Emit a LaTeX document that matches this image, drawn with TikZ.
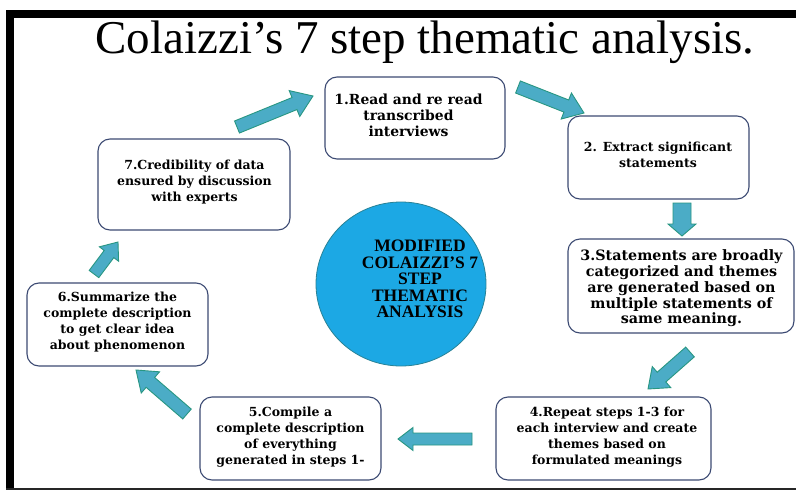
\documentclass[tikz,border=0pt]{standalone}
\usepackage{fontspec}
\setmainfont{Liberation Serif}
\newfontfamily\boxfont{DejaVu Serif}
\usetikzlibrary{shapes.geometric}
\definecolor{boxline}{RGB}{60,74,115}
\definecolor{arrfill}{RGB}{75,172,198}
\definecolor{arrline}{RGB}{40,150,130}
\definecolor{ellfill}{RGB}{28,168,228}
\definecolor{ellline}{RGB}{40,130,150}
\tikzset{
  stepbox/.style={draw=boxline, line width=1.1pt, rounded corners=12pt, fill=white},
  steptext/.style={font=\boxfont\bfseries\fontsize{12.5}{16}\selectfont, align=center, inner sep=0pt},
  bigtext/.style={font=\boxfont\bfseries\fontsize{13.9}{16}\selectfont, align=center, inner sep=0pt},
  arrowstyle/.style={draw=arrline, fill=arrfill, line width=0.9pt, line join=miter},
  hubtext/.style={font=\bfseries\fontsize{17.5}{16.6}\selectfont, align=center, inner sep=0pt}
}
\newcommand\blockarrow[7]{%
  \pgfmathsetmacro\baang{atan2(-(#4-#2),#3-#1)}%
  \pgfmathsetmacro\balen{veclen(#3-#1,#4-#2)}%
  \pgfmathsetmacro\babase{\balen-#7}%
  \begin{scope}[shift={(#1,#2)},rotate=\baang]
    \draw[arrowstyle] (0,#5) -- (\babase,#5) -- (\babase,#6) -- (\balen,0)
      -- (\babase,-#6) -- (\babase,-#5) -- (0,-#5) -- cycle;
  \end{scope}}
\begin{document}
\begin{tikzpicture}[x=1pt,y=-1pt]
\useasboundingbox (0,0) rectangle (796,490);
\fill[white] (0,0) rectangle (796,490);
% frame
\fill[black] (6,10) rectangle (796,18);
\fill[black] (6,10) rectangle (14,490);
\fill[black!85] (6,487.5) rectangle (796,490);
% title
\node[anchor=base, inner sep=0pt, font=\fontsize{47}{50}\selectfont] (title) at (425,53) {Colaizzi’s 7 step thematic analysis.};
% boxes
\node[stepbox, minimum width=180pt, minimum height=82pt] (b1) at (415,118) {};
\node[stepbox, minimum width=181pt, minimum height=83pt] (b2) at (658.5,157.5) {};
\node[stepbox, minimum width=226pt, minimum height=94pt] (b3) at (681,286) {};
\node[stepbox, minimum width=215pt, minimum height=83pt] (b4) at (603.5,438.5) {};
\node[stepbox, minimum width=181pt, minimum height=83pt] (b5) at (290.5,438.5) {};
\node[stepbox, minimum width=181pt, minimum height=83pt] (b6) at (117.5,324.5) {};
\node[stepbox, minimum width=192pt, minimum height=91pt] (b7) at (194,184.5) {};
% texts
\node[bigtext] (t1) at (408.5,115) {1.Read and re read\\transcribed\\interviews};
\node[steptext] (t2) at (658,155) {2. Extract significant\\statements};
\node[bigtext, font=\boxfont\bfseries\fontsize{14.3}{15.7}\selectfont] (t3) at (681.5,288.5) {3.Statements are broadly\\categorized and themes\\are generated based on\\multiple statements of\\same meaning.};
\node[steptext] (t4) at (607,437) {4.Repeat steps 1-3 for\\each interview and create\\themes based on\\formulated meanings};
\node[steptext] (t5) at (290.5,437) {5.Compile a\\complete description\\of everything\\generated in steps 1-};
\node[steptext] (t6) at (117.5,322.5) {6.Summarize the\\complete description\\to get clear idea\\about phenomenon};
\node[steptext] (t7) at (194.5,182) {7.Credibility of data\\ensured by discussion\\with experts};
% hub
\node[ellipse, draw=ellline, fill=ellfill, line width=0.8pt, minimum width=170pt, minimum height=164pt, inner sep=0pt] (hub) at (401,284) {};
\node[hubtext] (hubt) at (420,279) {MODIFIED\\COLAIZZI’S 7\\STEP\\THEMATIC\\ANALYSIS};
% block arrows
\blockarrow{237}{127}{313}{96}{6.5}{14}{20}
\blockarrow{518}{87}{584}{113}{6.5}{14}{19}
\blockarrow{682}{203}{682}{236}{9}{14}{12}
\blockarrow{690}{352}{648}{389}{6.5}{14}{18}
\blockarrow{472}{439}{398}{439}{6}{11.5}{15}
\blockarrow{187}{414}{136}{370}{6.5}{14}{19}
\blockarrow{94}{274}{118}{242}{6}{12}{15}
\end{tikzpicture}
\end{document}
